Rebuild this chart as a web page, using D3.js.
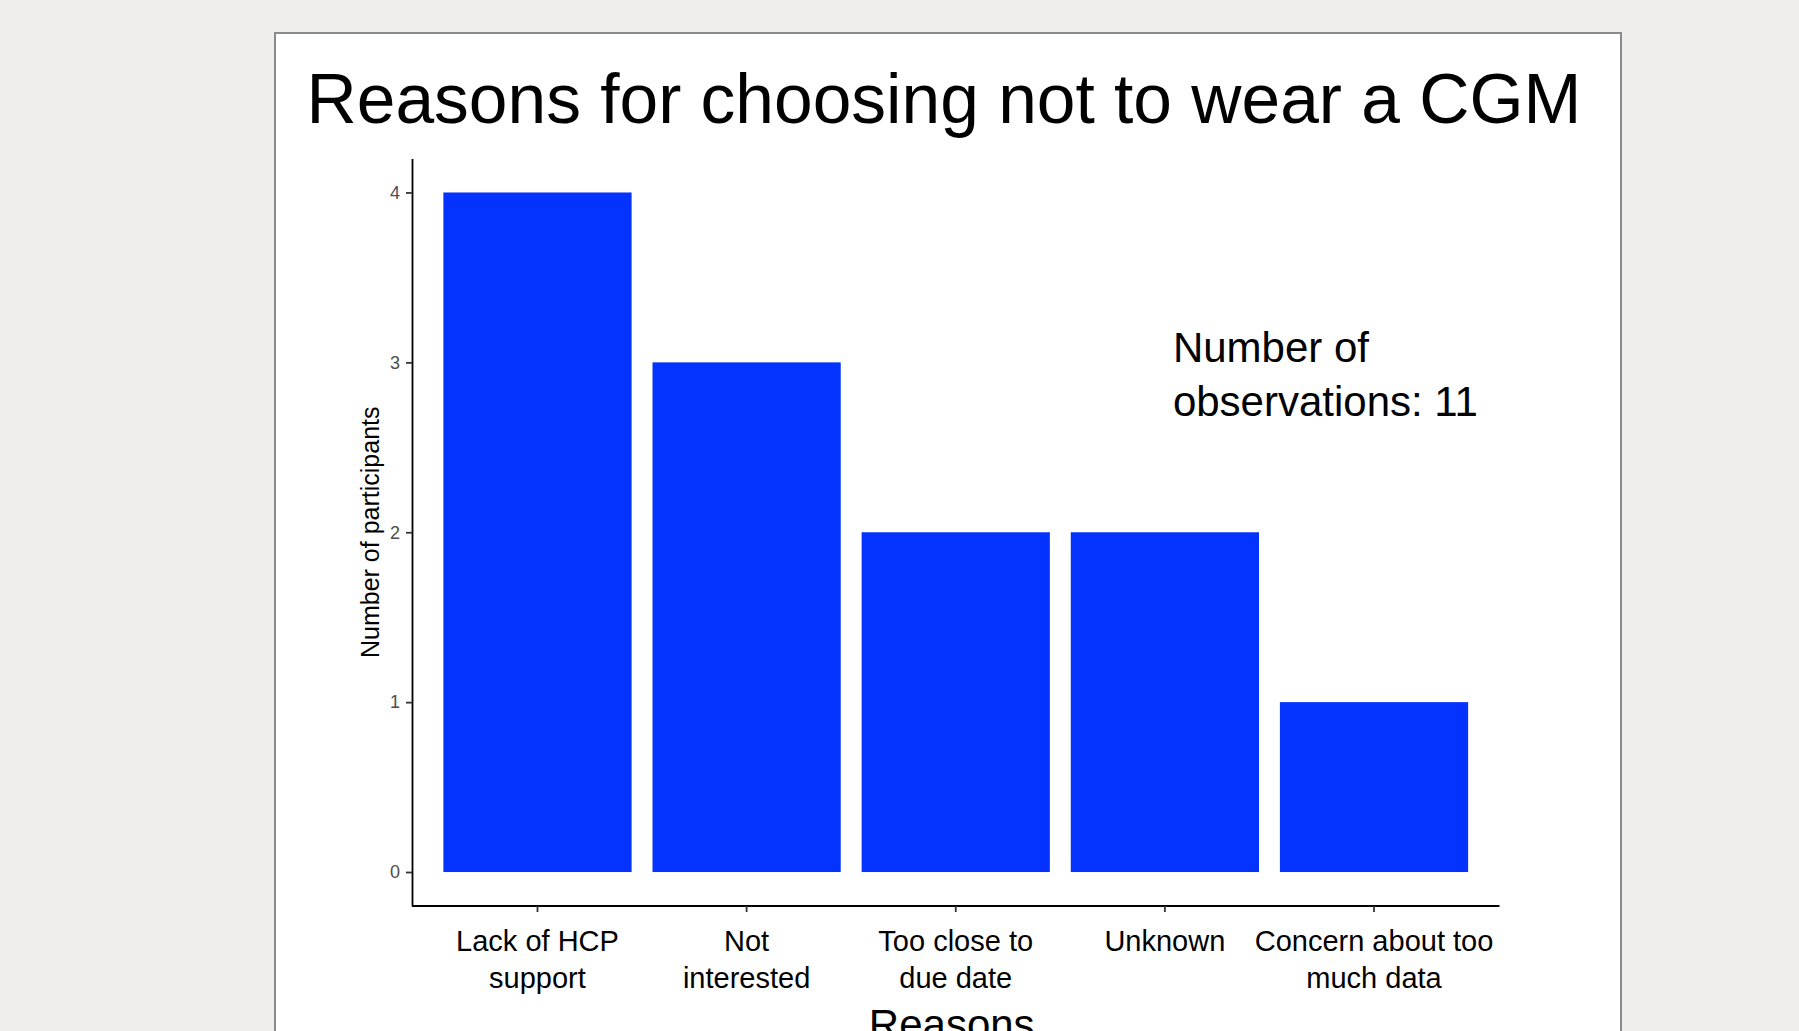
<!DOCTYPE html>
<html>
<head>
<meta charset="utf-8">
<script src="https://cdn.jsdelivr.net/npm/d3@7"></script>
<style>
  html, body { margin: 0; padding: 0; background: #efeeec; }
  svg { display: block; font-family: "Liberation Sans", Arial, sans-serif; }
</style>
</head>
<body>
<svg id="chart" width="1799" height="1031"></svg>
<script>
// Reasons given by participants for not wearing a CGM
const reasons = [
  ["Lack of HCP", "support"],
  ["Not", "interested"],
  ["Too close to", "due date"],
  ["Unknown"],
  ["Concern about too", "much data"]
];
const counts = [4, 3, 2, 2, 1];
const yTicks = [0, 1, 2, 3, 4];
const nObservations = 11;

const svg = d3.select("#chart");
const W = 1799, H = 1031;

// white card with grey border
svg.append("rect")
  .attr("x", 275).attr("y", 33)
  .attr("width", 1346).attr("height", H)
  .attr("fill", "#ffffff")
  .attr("stroke", "#8a8a8a")
  .attr("stroke-width", 2);

const keys = reasons.map(r => r.join(" "));
const data = keys.map((k, i) => ({ key: k, lines: reasons[i], value: counts[i] }));

const panel = { left: 412, right: 1499.5, top: 158.5, bottom: 906 };

const x = d3.scaleBand()
  .domain(keys)
  .range([panel.left, panel.right])
  .paddingInner(0.1)
  .paddingOuter(0.15);

const y = d3.scaleLinear()
  .domain([-0.2, 4.2])
  .range([panel.bottom, panel.top]);

// title
svg.append("text")
  .attr("x", 944).attr("y", 122.7)
  .attr("text-anchor", "middle")
  .attr("font-size", 69.5)
  .attr("fill", "#000")
  .text("Reasons for choosing not to wear a CGM");

// bars
svg.append("g").selectAll("rect")
  .data(data)
  .join("rect")
  .attr("x", d => x(d.key))
  .attr("width", x.bandwidth())
  .attr("y", d => y(d.value))
  .attr("height", d => y(0) - y(d.value))
  .attr("fill", "#0433ff");

// y axis
const yAxis = svg.append("g")
  .attr("transform", `translate(${panel.left},0)`)
  .call(d3.axisLeft(y).tickValues(yTicks).tickFormat(d3.format("d")).tickSize(6).tickPadding(6).tickSizeOuter(0));
yAxis.select(".domain").attr("stroke", "#000").attr("stroke-width", 1.8);
yAxis.selectAll(".tick line").attr("stroke", "#333").attr("stroke-width", 1.8);
yAxis.selectAll(".tick text")
  .attr("font-size", 18)
  .attr("fill", "#4d4d4d")
  .attr("font-family", "Liberation Sans, Arial, sans-serif");

// x axis
const xAxis = svg.append("g")
  .attr("transform", `translate(0,${panel.bottom})`)
  .call(d3.axisBottom(x).tickSize(6).tickSizeOuter(0).tickFormat(""));
xAxis.select(".domain")
  .attr("stroke", "#000").attr("stroke-width", 1.8)
  .attr("d", `M${panel.left},0H${panel.right}`);
xAxis.selectAll(".tick line").attr("stroke", "#333").attr("stroke-width", 1.8);

// multi-line category labels
const xLabels = svg.append("g");
data.forEach(d => {
  const t = xLabels.append("text")
    .attr("text-anchor", "middle")
    .attr("font-size", 29)
    .attr("fill", "#000");
  d.lines.forEach((line, j) => {
    t.append("tspan")
      .attr("x", x(d.key) + x.bandwidth() / 2)
      .attr("y", 951 + j * 37)
      .text(line);
  });
});

// axis titles
svg.append("text")
  .attr("transform", `translate(379,${(panel.top + panel.bottom) / 2}) rotate(-90)`)
  .attr("text-anchor", "middle")
  .attr("font-size", 25)
  .attr("fill", "#000")
  .text("Number of participants");

svg.append("text")
  .attr("x", (panel.left + panel.right) / 2 - 4)
  .attr("y", 1039)
  .attr("text-anchor", "middle")
  .attr("font-size", 42)
  .attr("fill", "#000")
  .text("Reasons");

// observation count note, anchored near the "Unknown" bar at the level of 3
const noteX = x(keys[3]) + x.bandwidth() / 2 + 8;
const noteY = y(3);
const note = svg.append("text")
  .attr("font-size", 42)
  .attr("fill", "#000");
note.append("tspan").attr("x", noteX).attr("y", noteY).text("Number of");
note.append("tspan").attr("x", noteX).attr("y", noteY + 54).text(`observations: ${nObservations}`);
</script>
</body>
</html>
